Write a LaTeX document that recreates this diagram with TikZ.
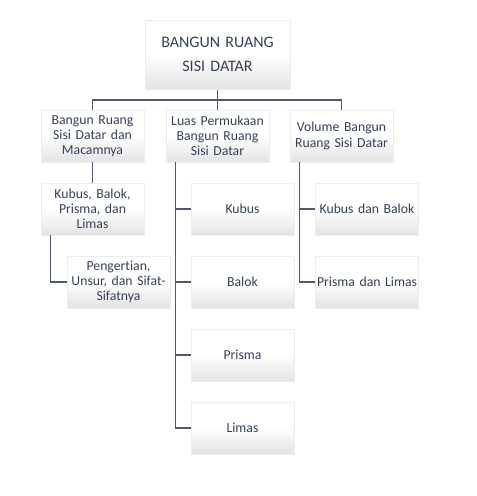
\documentclass[tikz,border=0pt]{standalone}
\usepackage{fontspec}
\setmainfont{Carlito}[Ligatures={NoCommon}]
\usetikzlibrary{shadows}
\definecolor{txtblue}{HTML}{34405A}
\definecolor{linegray}{HTML}{4F5A6B}
\tikzset{
  box/.style={draw=black!7, top color=white, bottom color=black!11, middle color=white,
    drop shadow={shadow xshift=0.6pt, shadow yshift=-0.9pt, opacity=0.45, fill=black!60},
    minimum width=77.25pt, minimum height=39pt, inner sep=0.1pt, align=center,
    text width=77pt, text=txtblue, font=\fontsize{10.3}{11.4}\selectfont},
  link/.style={draw=linegray, line width=1.1pt}
}
\begin{document}
\begin{tikzpicture}[x=0.75pt,y=-0.75pt]
\useasboundingbox (0,0) rectangle (477,496);
% links
\coordinate (bus) at (217.5,100);
\coordinate (topbot) at (217.5,89);
\coordinate (macamtop) at (92.5,110);
\coordinate (voltop) at (341.5,110);
\draw [link] (topbot) -- (217.5,110);
\draw [link] (macamtop) |- (bus) -| (voltop);
% top
\node [box, minimum width=108.75pt, minimum height=51.75pt, text width=100pt,
  font=\fontsize{12}{18}\selectfont] (top) at (217.5,54.5) {BANGUN RUANG\\SISI DATAR};
% level 1
\node [box] (macam) at (92.5,136) {Bangun Ruang\\Sisi Datar dan\\Macamnya};
\node [box] (luas) at (217.5,136) {Luas Permukaan\\Bangun Ruang\\Sisi Datar};
\node [box] (vol) at (341.5,136) {Volume Bangun\\Ruang Sisi Datar};
% level 2
\node [box] (jenis) at (92.5,209) {Kubus, Balok,\\Prisma, dan\\Limas};
\node [box] (sifat) at (118.5,282) {Pengertian,\\Unsur, dan Sifat-\\Sifatnya};
\node [box] (lkubus) at (242.5,209) {Kubus};
\node [box] (lbalok) at (242.5,282) {Balok};
\node [box] (lprisma) at (242.5,355) {Prisma};
\node [box] (llimas) at (242.5,428) {Limas};
\node [box] (vkubus) at (367,209) {Kubus dan Balok};
\node [box] (vprisma) at (367,282) {Prisma dan Limas};
% branches
\draw [link] (macam.south) -- (jenis.north);
\draw [link] ([xshift=7.5pt]jenis.south west) |- (sifat.west);
\foreach \n in {lkubus,lbalok,lprisma,llimas}
  \draw [link] ([xshift=7.5pt]luas.south west) |- (\n.west);
\foreach \n in {vkubus,vprisma}
  \draw [link] ([xshift=7.5pt]vol.south west) |- (\n.west);
\end{tikzpicture}
\end{document}
